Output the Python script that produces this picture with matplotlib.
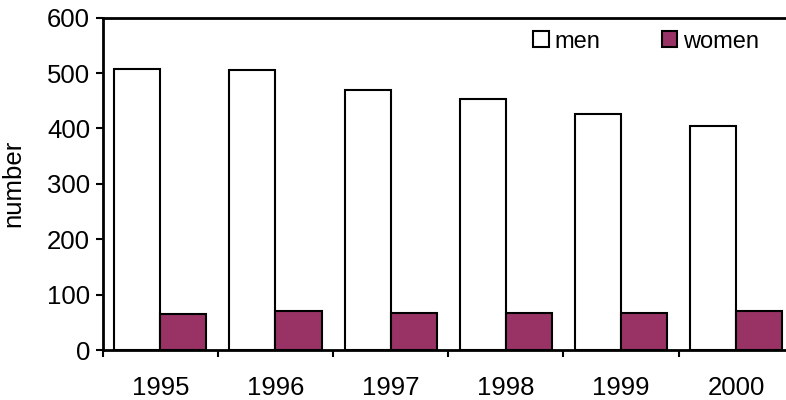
import numpy as np
import matplotlib.pyplot as plt
from matplotlib.patches import Patch

years = ['1995', '1996', '1997', '1998', '1999', '2000']
men = [507, 505, 470, 454, 427, 405]
women = [65, 70, 66, 67, 67, 71]

plt.rcParams['font.family'] = ['Liberation Sans', 'DejaVu Sans']
fs = 18.5

fig = plt.figure(figsize=(7.86, 4.0), dpi=100)
# axes runs a bit past the right edge of the figure
ax = fig.add_axes([102.7 / 786, 50 / 400, 691 / 786, 332.3 / 400])

x = np.arange(len(years))
w = 0.4
ax.bar(x - w / 2, men, w, color='white', edgecolor='black', linewidth=1.5, label='men')
ax.bar(x + w / 2, women, w, color='#993366', edgecolor='black', linewidth=1.5, label='women')

ax.set_xlim(-0.5, len(years) - 0.5)
ax.set_ylim(0, 600)
ax.set_yticks(range(0, 601, 100))

ax.set_xticks(x)
ax.set_xticklabels(years)
ax.set_xticks(np.arange(-0.5, len(years)), minor=True)
ax.tick_params(axis='x', which='major', length=0, pad=19, labelsize=fs)
ax.tick_params(axis='x', which='minor', length=5, width=1.5, direction='out')
ax.tick_params(axis='y', length=5, width=1.5, direction='out', pad=4, labelsize=fs)

for s in ax.spines.values():
    s.set_linewidth(2)
ax.spines['right'].set_visible(False)

ax.set_ylabel('number', fontsize=fs)
ax.yaxis.set_label_coords(-0.112, 0.5)

handles = [Patch(facecolor='white', edgecolor='black', linewidth=1.5),
           Patch(facecolor='#993366', edgecolor='black', linewidth=1.5)]
fig.legend(handles, ['men', 'women'], ncol=2, frameon=False, fontsize=17,
           loc='center left', bbox_to_anchor=(533 / 786, 1 - 41.7 / 400),
           borderpad=0, borderaxespad=0, handlelength=0.66, handleheight=0.66,
           handletextpad=0.25, columnspacing=2.6)

fig.savefig('out.png', dpi=100)
